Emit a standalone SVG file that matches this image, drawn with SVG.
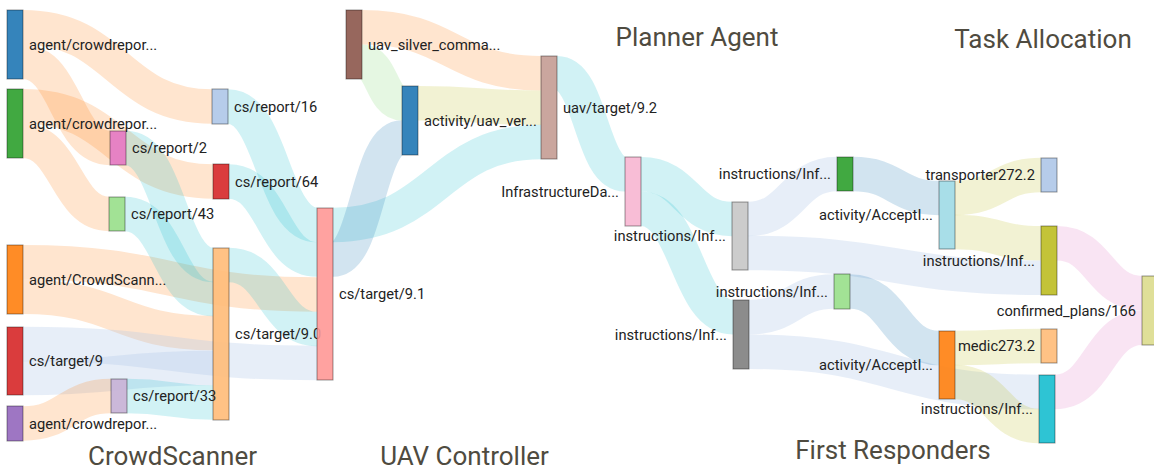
<svg xmlns="http://www.w3.org/2000/svg" width="1154" height="469" viewBox="0 0 1154 469">
<style>
.lk{fill:none;stroke-width:34.5}
.or{stroke:#ff7f0e;stroke-opacity:.2}
.cy{stroke:#17becf;stroke-opacity:.2}
.lb{stroke:#aec7e8;stroke-opacity:.3}
.mb{stroke:#1f77b4;stroke-opacity:.2}
.gr{stroke:#98df8a;stroke-opacity:.25}
.ol{stroke:#bcbd22;stroke-opacity:.2}
.pk{stroke:#e377c2;stroke-opacity:.2}
.nd rect{fill-opacity:.9;stroke:#000;stroke-opacity:.4;stroke-width:1}
.nd text{font-family:Roboto,"Liberation Sans",sans-serif;font-size:14.7px;fill:#222;dominant-baseline:central}
.r text{text-anchor:start}
.l text{text-anchor:end}
.ttl{font-family:Roboto,"Liberation Sans",sans-serif;font-size:26px;fill:#4f4b40;text-anchor:middle}
</style>
<rect width="1154" height="469" fill="#fff"/>
<g id="links">
<path class="lk or" d="M23,27.25 C117.5,27.25 117.5,106.5 212,106.5"/>
<path class="lk or" d="M23,61.75 C66.5,61.75 66.5,148 110,148"/>
<path class="lk or" d="M23,106.25 C118,106.25 118,181.5 213,181.5"/>
<path class="lk or" d="M23,140.75 C66,140.75 66,214 109,214"/>
<path class="lk or" d="M23,262.25 C170,262.25 170,294.5 317,294.5"/>
<path class="lk or" d="M23,296.75 C118,296.75 118,333 213,333"/>
<path class="lk lb" d="M23,344 C170,344 170,363 317,363"/>
<path class="lk lb" d="M23,378 C118,378 118,368 213,368"/>
<path class="lk or" d="M23,423.5 C67,423.5 67,396 111,396"/>
<path class="lk cy" d="M126,148 C169.5,148 169.5,265 213,265"/>
<path class="lk cy" d="M125,214 C169,214 169,299 213,299"/>
<path class="lk cy" d="M127,396 C170,396 170,402.5 213,402.5"/>
<path class="lk cy" d="M228,106.5 C272.5,106.5 272.5,225 317,225"/>
<path class="lk cy" d="M229,181.5 C273,181.5 273,259.5 317,259.5"/>
<path class="lk cy" d="M229,265 C273,265 273,329 317,329"/>
<path class="lk cy" d="M333,225 C437,225 437,142 541,142"/>
<path class="lk mb" d="M333,259.5 C367.5,259.5 367.5,137.5 402,137.5"/>
<path class="lk or" d="M362,27.25 C451.5,27.25 451.5,73.25 541,73.25"/>
<path class="lk gr" d="M362,61.75 C382,61.75 382,103.25 402,103.25"/>
<path class="lk ol" d="M418,103.25 C479.5,103.25 479.5,107.75 541,107.75"/>
<path class="lk cy" d="M557,73.25 C591,73.25 591,174.25 625,174.25"/>
<path class="lk cy" d="M641,174.25 C686.5,174.25 686.5,219 732,219"/>
<path class="lk cy" d="M641,208.75 C687,208.75 687,317.25 733,317.25"/>
<path class="lk lb" d="M748,219 C792.5,219 792.5,174 837,174"/>
<path class="lk lb" d="M748,253 C894.5,253 894.5,277.75 1041,277.75"/>
<path class="lk lb" d="M749,317.25 C791.5,317.25 791.5,291.5 834,291.5"/>
<path class="lk lb" d="M749,351.75 C894,351.75 894,392 1039,392"/>
<path class="lk mb" d="M853,174 C896,174 896,198 939,198"/>
<path class="lk mb" d="M850,291.5 C894.5,291.5 894.5,348 939,348"/>
<path class="lk ol" d="M955,198 C998,198 998,175 1041,175"/>
<path class="lk ol" d="M955,232 C998,232 998,243.25 1041,243.25"/>
<path class="lk ol" d="M955,348 C998,348 998,346 1041,346"/>
<path class="lk ol" d="M955,382 C997,382 997,426 1039,426"/>
<path class="lk pk" d="M1057,243.25 C1099.5,243.25 1099.5,293.25 1142,293.25"/>
<path class="lk pk" d="M1055,392 C1098.5,392 1098.5,327.75 1142,327.75"/>
</g>
<g id="n_a1" class="nd r"><rect x="7" y="10" width="16" height="69" fill="#1f77b4"/><text x="29" y="44.5">agent/crowdrepor...</text></g>
<g id="n_a2" class="nd r"><rect x="7" y="89" width="16" height="69" fill="#2ca02c"/><text x="29" y="123.5">agent/crowdrepor...</text></g>
<g id="n_a3" class="nd r"><rect x="7" y="245" width="16" height="69" fill="#ff7f0e"/><text x="29" y="279.5">agent/CrowdScann...</text></g>
<g id="n_t9" class="nd r"><rect x="7" y="327" width="16" height="68" fill="#d62728"/><text x="29" y="361">cs/target/9</text></g>
<g id="n_a4" class="nd r"><rect x="7" y="406" width="16" height="35" fill="#9467bd"/><text x="29" y="423.5">agent/crowdrepor...</text></g>
<g id="n_r16" class="nd r"><rect x="212" y="89" width="16" height="35" fill="#aec7e8"/><text x="234" y="106.5">cs/report/16</text></g>
<g id="n_r64" class="nd r"><rect x="213" y="164" width="16" height="35" fill="#d62728"/><text x="235" y="181.5">cs/report/64</text></g>
<g id="n_r2" class="nd r"><rect x="110" y="131" width="16" height="34" fill="#e377c2"/><text x="132" y="148">cs/report/2</text></g>
<g id="n_r43" class="nd r"><rect x="109" y="197" width="16" height="34" fill="#98df8a"/><text x="131" y="214">cs/report/43</text></g>
<g id="n_t90" class="nd r"><rect x="213" y="248" width="16" height="172" fill="#ffbb78"/><text x="235" y="334">cs/target/9.0</text></g>
<g id="n_r33" class="nd r"><rect x="111" y="379" width="16" height="34" fill="#c5b0d5"/><text x="133" y="396">cs/report/33</text></g>
<g id="n_t91" class="nd r"><rect x="317" y="208" width="16" height="172" fill="#ff9896"/><text x="339" y="294">cs/target/9.1</text></g>
<g id="n_uav" class="nd r"><rect x="346" y="10" width="16" height="69" fill="#8c564b"/><text x="368" y="44.5">uav_silver_comma...</text></g>
<g id="n_act" class="nd r"><rect x="402" y="86" width="16" height="69" fill="#1f77b4"/><text x="424" y="120.5">activity/uav_ver...</text></g>
<g id="n_ut" class="nd r"><rect x="541" y="56" width="16" height="103" fill="#c49c94"/><text x="563" y="107.5">uav/target/9.2</text></g>
<g id="n_inf" class="nd l"><rect x="625" y="157" width="16" height="69" fill="#f7b6d2"/><text x="619" y="191.5">InfrastructureDa...</text></g>
<g id="n_ig" class="nd l"><rect x="732" y="202" width="16" height="68" fill="#c7c7c7"/><text x="726" y="236">instructions/Inf...</text></g>
<g id="n_idg" class="nd l"><rect x="733" y="300" width="16" height="69" fill="#7f7f7f"/><text x="727" y="334.5">instructions/Inf...</text></g>
<g id="n_igr" class="nd l"><rect x="837" y="157" width="16" height="34" fill="#2ca02c"/><text x="831" y="174">instructions/Inf...</text></g>
<g id="n_ilg" class="nd l"><rect x="834" y="274" width="16" height="35" fill="#98df8a"/><text x="828" y="291.5">instructions/Inf...</text></g>
<g id="n_aa1" class="nd l"><rect x="939" y="181" width="16" height="68" fill="#9edae5"/><text x="933" y="215">activity/AcceptI...</text></g>
<g id="n_aa2" class="nd l"><rect x="939" y="331" width="16" height="68" fill="#ff7f0e"/><text x="933" y="365">activity/AcceptI...</text></g>
<g id="n_tr" class="nd l"><rect x="1041" y="158" width="16" height="34" fill="#aec7e8"/><text x="1035" y="175">transporter272.2</text></g>
<g id="n_io" class="nd l"><rect x="1041" y="226" width="16" height="69" fill="#bcbd22"/><text x="1035" y="260.5">instructions/Inf...</text></g>
<g id="n_med" class="nd l"><rect x="1041" y="329" width="16" height="34" fill="#ffbb78"/><text x="1035" y="346">medic273.2</text></g>
<g id="n_ic" class="nd l"><rect x="1039" y="375" width="16" height="68" fill="#17becf"/><text x="1033" y="409">instructions/Inf...</text></g>
<g id="n_cp" class="nd l"><rect x="1142" y="276" width="16" height="69" fill="#dbdb8d"/><text x="1136" y="310.5">confirmed_plans/166</text></g>
<g id="titles">
<text class="ttl" x="172.5" y="465">CrowdScanner</text>
<text class="ttl" x="464.5" y="465">UAV Controller</text>
<text class="ttl" x="893" y="459">First Responders</text>
<text class="ttl" x="697" y="46">Planner Agent</text>
<text class="ttl" x="1043" y="48">Task Allocation</text>
</g>
</svg>
